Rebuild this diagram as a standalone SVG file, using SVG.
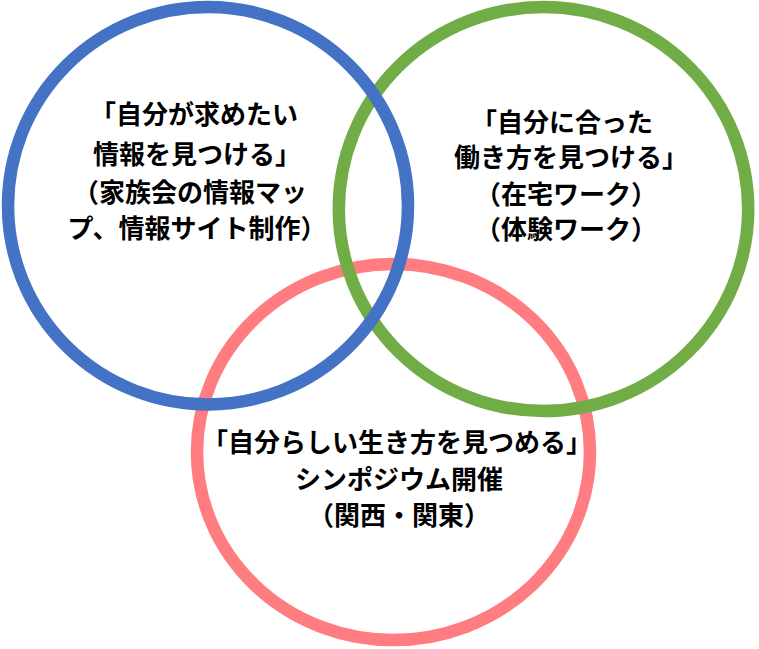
<svg xmlns="http://www.w3.org/2000/svg" width="759" height="649" viewBox="0 0 759 649">
<style>
.ring{fill:none;stroke-width:12.5}
.t{font-family:"Noto Sans CJK JP","Noto Sans CJK SC",sans-serif;font-weight:700;font-size:26px;fill:#000;text-anchor:middle}
</style>
<rect width="759" height="649" fill="#fff"/>
<g id="circle-pink"><ellipse class="ring" cx="393.5" cy="452" rx="196.5" ry="188" stroke="#FF7C80"/></g>
<g id="circle-green"><ellipse class="ring" cx="543.5" cy="209" rx="204.7" ry="202" stroke="#70AD47"/></g>
<g id="circle-blue"><ellipse class="ring" cx="208" cy="205.7" rx="200" ry="198.7" stroke="#4472C4"/></g>
<g id="label-blue">
<text class="t" x="194" y="123.5">「自分が求めたい</text>
<text class="t" x="197" y="164">情報を見つける」</text>
<text class="t" x="190" y="201.5">（家族会の情報マッ</text>
<text class="t" x="197" y="237.5">プ、情報サイト制作）</text>
</g>
<g id="label-green">
<text class="t" x="562" y="131.5">「自分に合った</text>
<text class="t" x="571" y="166.5">働き方を見つける」</text>
<text class="t" x="566" y="203.5">（在宅ワーク）</text>
<text class="t" x="566" y="238.5">（体験ワーク）</text>
</g>
<g id="label-pink">
<text class="t" x="397" y="451.5">「自分らしい生き方を見つめる」</text>
<text class="t" x="399" y="488.5">シンポジウム開催</text>
<text class="t" x="399" y="525">（関西・関東）</text>
</g>
<g id="connectors"/>
</svg>
